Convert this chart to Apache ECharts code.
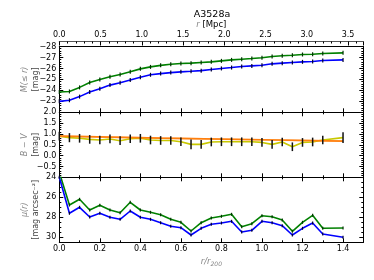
<!DOCTYPE html>
<html><head><meta charset="utf-8">
<script src="https://cdn.jsdelivr.net/npm/echarts@6/dist/echarts.min.js"></script>
<style>html,body{margin:0;padding:0;background:#fff}#c{width:374px;height:280px}</style>
</head><body><div id="c"></div>
<script>
const rR200 = [0,0.05,0.1,0.15,0.2,0.25,0.3,0.35,0.4,0.45,0.5,0.55,0.6,0.65,0.7,0.75,0.8,0.85,0.9,0.95,1.0,1.05,1.1,1.15,1.2,1.25,1.3,1.4];
const magBlue = [-23.0,-23.1,-23.43,-23.85,-24.15,-24.48,-24.7,-24.94,-25.2,-25.42,-25.53,-25.62,-25.69,-25.74,-25.8,-25.9,-26.0,-26.08,-26.17,-26.23,-26.29,-26.42,-26.48,-26.54,-26.6,-26.63,-26.72,-26.78];
const magGreen = [-23.85,-23.9,-24.27,-24.72,-25.0,-25.24,-25.45,-25.7,-25.96,-26.14,-26.28,-26.38,-26.45,-26.48,-26.54,-26.6,-26.69,-26.78,-26.84,-26.9,-26.97,-27.09,-27.15,-27.2,-27.27,-27.3,-27.36,-27.42];
const bvData = [0.9,0.83,0.8,0.75,0.72,0.77,0.69,0.78,0.8,0.72,0.7,0.7,0.64,0.52,0.52,0.63,0.64,0.64,0.64,0.64,0.61,0.52,0.63,0.41,0.61,0.63,0.72,0.83];
const bvErr = [0.2,0.21,0.2,0.2,0.2,0.2,0.2,0.2,0.2,0.2,0.2,0.2,0.2,0.22,0.2,0.2,0.2,0.2,0.2,0.2,0.2,0.2,0.2,0.2,0.2,0.2,0.2,0.25];
const fitX = [0,0.5,1.0,1.4];
const fitY = [0.9,0.81,0.73,0.67];
const fitLo = [0.86,0.77,0.69,0.63];
const fitHi = [0.94,0.85,0.77,0.71];
const muBlue = [24.0,27.6,27.0,27.97,27.6,28.0,28.2,27.37,28.0,28.2,28.54,28.9,29.04,29.77,29.1,28.7,28.57,28.4,29.47,29.3,28.4,28.54,28.84,29.77,29.1,28.57,29.67,30.0];
const muGreen = [23.5,26.77,26.2,27.27,26.8,27.27,27.54,26.5,27.27,27.5,27.74,28.2,28.5,29.37,28.54,28.07,27.9,27.7,28.94,28.64,27.84,27.94,28.27,29.4,28.5,27.8,29.1,29.07];
const mpcTicks = {min:0, max:3.685, interval:0.5};

const FONT = 'DejaVu Sans';
const zip = (xs, ys) => xs.map((x,i)=>[x, ys[i]]);
const minus = s => String(s).replace('-', '\u2212');
const xBase = (grid, extra) => Object.assign({
  type:'value', gridIndex:grid, min:0, max:1.5, interval:0.2,
  axisLine:{show:true, onZero:false, lineStyle:{color:'#000', width:1}},
  axisTick:{show:true, inside:true, length:4, lineStyle:{color:'#000'}},
  minorTick:{show:true, splitNumber:2, length:2, lineStyle:{color:'#000'}},
  axisLabel:{show:false}, splitLine:{show:false}
}, extra);
const yBase = (grid, extra) => Object.assign({
  type:'value', gridIndex:grid,
  axisLine:{show:true, onZero:false, lineStyle:{color:'#000', width:1}},
  axisTick:{show:true, inside:true, length:4, lineStyle:{color:'#000'}},
  axisLabel:{show:false}, splitLine:{show:false}
}, extra);
const nameRich = {
  m:{fontFamily:FONT, fontStyle:'italic', color:'#888', fontSize:8, lineHeight:11},
  b:{fontFamily:FONT, color:'#444', fontSize:8, lineHeight:11}
};
const ylab = {show:true, fontFamily:FONT, fontSize:8, color:'#000', margin:3};

const chart = echarts.init(document.getElementById('c'), null, {renderer:'canvas'});
chart.setOption({
  animation:false,
  backgroundColor:'#fff',
  title:{text:'A3528a', left:207, top:5, textAlign:'center',
    textStyle:{fontFamily:FONT, fontSize:9.5, fontWeight:'normal', color:'#000'}},
  grid:[
    {left:59.3, right:10.7, top:46.5, height:65.8},
    {left:59.3, right:10.7, top:112.3, height:65},
    {left:59.3, right:10.7, top:177.3, height:65}
  ],
  xAxis:[
    xBase(0, {position:'bottom'}),
    xBase(0, {position:'top', min:mpcTicks.min, max:mpcTicks.max, interval:mpcTicks.interval, offset:5,
      axisLine:{show:true, onZero:false, lineStyle:{color:'#555', width:1}},
      minorTick:{show:true, splitNumber:5, length:2, lineStyle:{color:'#000'}},
      axisLabel:{show:true, fontFamily:FONT, fontSize:8, color:'#000', margin:3, showMaxLabel:false,
        formatter:v=>v.toFixed(1)},
      name:'{i|r} [Mpc]', nameLocation:'middle', nameGap:11,
      nameTextStyle:{fontFamily:FONT, fontSize:8.5, color:'#000',
        rich:{i:{fontFamily:FONT, fontStyle:'italic', color:'#888', fontSize:8.5}}}}),
    xBase(0, {position:'top', axisTick:{show:false}, minorTick:{show:false}}),
    xBase(1, {position:'bottom'}),
    xBase(1, {position:'top'}),
    xBase(2, {position:'bottom',
      axisLabel:{show:true, fontFamily:FONT, fontSize:8, color:'#000', margin:3, showMaxLabel:false,
        formatter:v=>v.toFixed(1)},
      name:'{i|r/r}{s|200}', nameLocation:'middle', nameGap:14,
      nameTextStyle:{rich:{i:{fontFamily:FONT, fontStyle:'italic', color:'#888', fontSize:8.5},
        s:{fontFamily:FONT, fontStyle:'italic', color:'#888', fontSize:6, padding:[5,0,0,0]}}}}),
    xBase(2, {position:'top'})
  ],
  yAxis:[
    yBase(0, {position:'left', min:-28, max:-22, interval:1, inverse:true,
      minorTick:{show:true, splitNumber:5, length:2, lineStyle:{color:'#000'}},
      axisLabel:Object.assign({}, ylab, {showMaxLabel:false, formatter:v=>minus(v)}),
      name:'{m|M(\u2264 r)}\n{b|[mag]}', nameLocation:'middle', nameRotate:90, nameGap:18,
      nameMoveOverlap:false, nameTextStyle:{rich:nameRich}}),
    yBase(0, {position:'right', min:-28, max:-22, interval:1, inverse:true,
      minorTick:{show:true, splitNumber:5, length:2, lineStyle:{color:'#000'}}}),
    yBase(1, {position:'left', min:-1, max:2, interval:0.5,
      minorTick:{show:true, splitNumber:5, length:2, lineStyle:{color:'#000'}},
      axisLabel:Object.assign({}, ylab, {showMinLabel:false, formatter:v=>minus(v.toFixed(1))}),
      name:'{m|B \u2212 V}\n{b|[mag]}', nameLocation:'middle', nameRotate:90, nameGap:18,
      nameMoveOverlap:false, nameTextStyle:{rich:nameRich}}),
    yBase(1, {position:'right', min:-1, max:2, interval:0.5,
      minorTick:{show:true, splitNumber:5, length:2, lineStyle:{color:'#000'}}}),
    yBase(2, {position:'left', min:24, max:30.5, interval:2, inverse:true,
      minorTick:{show:true, splitNumber:4, length:2, lineStyle:{color:'#000'}},
      axisLabel:Object.assign({}, ylab, {showMaxLabel:false}),
      name:'{m|\u03bc(r)}\n{b|[mag arcsec\u207b\u00b2]}', nameLocation:'middle', nameRotate:90, nameGap:18,
      nameMoveOverlap:false, nameTextStyle:{rich:nameRich}}),
    yBase(2, {position:'right', min:24, max:30.5, interval:2, inverse:true,
      minorTick:{show:true, splitNumber:4, length:2, lineStyle:{color:'#000'}}})
  ],
  series:[
    {type:'line', xAxisIndex:0, yAxisIndex:0, data:zip(rR200, magGreen), z:3,
      lineStyle:{color:'#008000', width:1.6}, symbol:'rect', symbolSize:[1.2,4],
      itemStyle:{color:'#003300'}},
    {type:'line', xAxisIndex:0, yAxisIndex:0, data:zip(rR200, magBlue), z:3,
      lineStyle:{color:'#0000ff', width:1.6}, symbol:'rect', symbolSize:[1.2,4],
      itemStyle:{color:'#000033'}},
    {type:'custom', xAxisIndex:3, yAxisIndex:2, z:2, data:[[0, 0]],
      renderItem:(params, api)=>{
        const top = fitX.map((x,i)=>api.coord([x, fitHi[i]]));
        const bot = fitX.map((x,i)=>api.coord([x, fitLo[i]])).reverse();
        return {type:'polygon', shape:{points:top.concat(bot)}, style:{fill:'#ffc890'}};
      }},
    {type:'line', xAxisIndex:3, yAxisIndex:2, data:zip(rR200, bvData), z:3,
      symbol:'none', lineStyle:{color:'#c8c800', width:1.6}},
    {type:'line', xAxisIndex:3, yAxisIndex:2, data:zip(fitX, fitY), z:4,
      symbol:'none', lineStyle:{color:'#ff7f0e', width:1.6}},
    {type:'custom', xAxisIndex:3, yAxisIndex:2, z:5,
      data:rR200.map((x,i)=>[x, bvData[i]-bvErr[i], bvData[i]+bvErr[i]]),
      encode:{x:0, y:[1,2]},
      renderItem:(params, api)=>{
        const p1 = api.coord([api.value(0), api.value(1)]);
        const p2 = api.coord([api.value(0), api.value(2)]);
        return {type:'line', shape:{x1:p1[0], y1:p1[1], x2:p2[0], y2:p2[1]},
          style:{stroke:'#111', lineWidth:1.5}};
      }},
    {type:'line', xAxisIndex:5, yAxisIndex:4, data:zip(rR200, muGreen), z:3,
      lineStyle:{color:'#008000', width:1.6}, symbol:'rect', symbolSize:[1.2,3],
      itemStyle:{color:'#003300'}},
    {type:'line', xAxisIndex:5, yAxisIndex:4, data:zip(rR200, muBlue), z:3,
      lineStyle:{color:'#0000ff', width:1.6}, symbol:'rect', symbolSize:[1.2,3],
      itemStyle:{color:'#000033'}}
  ]
});
</script></body></html>
